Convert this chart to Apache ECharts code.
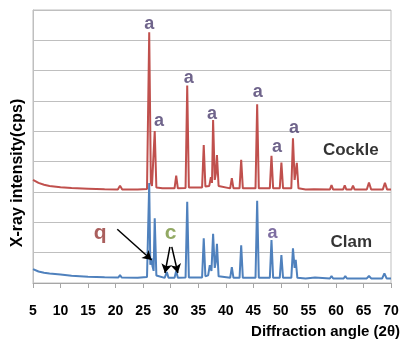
<!DOCTYPE html>
<html>
<head>
<meta charset="utf-8">
<script src="https://cdn.jsdelivr.net/npm/echarts@6/dist/echarts.min.js"></script>
<style>
html,body{margin:0;padding:0;background:#fff;}
#chart{width:402px;height:341px;}
</style>
</head>
<body>
<div id="chart"></div>
<script>
// X-ray diffraction patterns (intensity in arbitrary units, Cockle offset above Clam)
var xTicks = [5, 10, 15, 20, 25, 30, 35, 40, 45, 50, 55, 60, 65, 70];

var cockleAngle = [5.0, 6.0, 7.0, 8.0, 10.0, 12.0, 15.0, 18.0, 20.4, 20.8, 21.2, 24.0, 25.7, 26.1, 26.4, 26.6, 26.8, 27.1, 27.4, 28.5,
  30.7, 31.0, 31.3, 32.7, 33.0, 33.3, 35.7, 36.0, 36.3, 37.0, 37.3, 37.5, 37.7, 38.0, 38.2, 38.4, 38.7, 40.8, 41.1, 41.4,
  42.5, 42.8, 43.1, 45.4, 45.7, 46.0, 48.0, 48.3, 48.6, 49.8, 50.1, 50.4, 51.9, 52.2, 52.5, 52.9, 53.2, 54.5, 56.0, 58.9,
  59.2, 59.5, 61.3, 61.6, 61.9, 62.8, 63.1, 63.4, 65.6, 66.0, 66.4, 68.5, 68.9, 69.3, 70.0];
var cockleIntensity = [3.40, 3.30, 3.24, 3.20, 3.16, 3.13, 3.11, 3.09, 3.08, 3.21, 3.08, 3.08, 3.10, 8.27, 3.30, 3.20, 3.25, 5.01, 3.15, 3.12,
  3.12, 3.54, 3.12, 3.13, 6.51, 3.15, 3.15, 4.55, 3.18, 3.20, 3.49, 3.30, 5.37, 3.40, 3.60, 4.22, 3.20, 3.12, 3.46, 3.12,
  3.12, 4.06, 3.12, 3.12, 5.89, 3.12, 3.12, 4.19, 3.12, 3.12, 3.97, 3.12, 3.12, 4.77, 3.40, 3.96, 3.12, 3.08, 3.09, 3.08,
  3.23, 3.08, 3.08, 3.22, 3.08, 3.08, 3.21, 3.08, 3.08, 3.31, 3.08, 3.08, 3.30, 3.08, 3.08];

var clamAngle = [5.0, 6.0, 7.0, 8.0, 10.0, 12.0, 15.0, 18.0, 20.5, 20.8, 21.1, 24.0, 25.7, 26.1, 26.3, 26.5, 26.7, 26.9, 27.1, 27.4,
  28.9, 29.3, 29.6, 30.7, 31.0, 31.3, 32.7, 33.0, 33.3, 35.7, 36.0, 36.3, 36.8, 37.1, 37.4, 37.7, 38.0, 38.2, 38.4, 38.7,
  40.8, 41.1, 41.4, 42.5, 42.8, 43.1, 45.4, 45.7, 46.0, 48.0, 48.3, 48.6, 49.8, 50.1, 50.4, 51.9, 52.2, 52.5, 52.7, 53.0,
  54.5, 56.2, 58.9, 59.2, 59.5, 61.4, 61.7, 62.0, 62.8, 63.1, 63.4, 65.6, 66.0, 66.4, 68.4, 68.8, 69.2, 70.0];
var clamIntensity = [0.46, 0.38, 0.34, 0.31, 0.28, 0.24, 0.21, 0.19, 0.18, 0.26, 0.18, 0.17, 0.20, 3.30, 0.60, 0.82, 0.55, 0.40, 2.13, 0.25,
  0.17, 0.36, 0.17, 0.17, 0.40, 0.17, 0.18, 2.68, 0.18, 0.18, 1.47, 0.22, 0.25, 0.59, 0.40, 1.62, 0.50, 0.70, 1.29, 0.22,
  0.17, 0.52, 0.17, 0.17, 1.24, 0.17, 0.17, 2.71, 0.17, 0.17, 1.42, 0.17, 0.17, 0.92, 0.17, 0.17, 1.14, 0.50, 0.76, 0.17,
  0.15, 0.18, 0.15, 0.23, 0.15, 0.15, 0.23, 0.15, 0.15, 0.21, 0.15, 0.15, 0.23, 0.15, 0.15, 0.32, 0.15, 0.15];

// peak annotations ("a" = aragonite) placed in data coordinates
var cockleMarkAngle = [26.1, 27.9, 33.3, 37.5, 45.8, 49.3, 52.4];
var cockleMarkY = [8.54, 5.35, 6.75, 5.57, 6.29, 4.49, 5.12];
var clamMarkAngle = [48.5];
var clamMarkY = [1.64];

var seriesNames = ['Cockle', 'Clam'];
var seriesLabelAngle = [62.7, 62.8];
var seriesLabelY = [4.39, 1.33];

var qLabel = {text: 'q', angle: 17.2, y: 1.65};
var cLabel = {text: 'c', angle: 30.0, y: 1.65};
var qArrow = [[20.3, 1.77], [26.54, 0.76]];
var cArrows = [[[29.86, 1.19], [28.96, 0.33]], [[30.2, 1.19], [31.3, 0.33]]];

function zip(a, b) { return a.map(function (v, i) { return [v, b[i]]; }); }

var FONT = '"Liberation Sans", Arial, sans-serif';
var chart = echarts.init(document.getElementById('chart'), null, {renderer: 'canvas'});

var option = {
  animation: false,
  grid: {left: 33, right: 11, top: 10, bottom: 58, show: true, borderColor: '#BFBFBF', borderWidth: 1, backgroundColor: 'transparent'},
  xAxis: {
    type: 'value', min: 5, max: 70, interval: 5,
    axisLine: {show: true, lineStyle: {color: '#A6A6A6', width: 1}},
    axisTick: {show: true, length: 5, lineStyle: {color: '#A6A6A6'}},
    splitLine: {show: false},
    axisLabel: {
      color: '#000', fontFamily: FONT, fontWeight: 'bold', fontSize: 14, margin: 21,
      formatter: function (v) { return xTicks.indexOf(v) >= 0 ? String(v) : ''; }
    }
  },
  yAxis: {
    type: 'value', min: 0, max: 9, interval: 1,
    axisLine: {show: true, lineStyle: {color: '#BFBFBF'}},
    axisTick: {show: false},
    axisLabel: {show: false},
    splitLine: {show: true, lineStyle: {color: '#BFBFBF', width: 1}}
  },
  graphic: [
    {type: 'text', x: 18, y: 173, rotation: Math.PI / 2,
      style: {text: 'X-ray intensity(cps)', font: 'bold 16px ' + FONT, fill: '#000', textAlign: 'center', textVerticalAlign: 'middle'}},
    {type: 'text', right: 2, top: 324,
      style: {text: 'Diffraction angle (2θ)', font: 'bold 15px ' + FONT, fill: '#000'}}
  ],
  series: [
    {
      name: seriesNames[0], type: 'line', data: zip(cockleAngle, cockleIntensity),
      showSymbol: false, symbol: 'none', lineStyle: {color: '#C0504D', width: 2}, itemStyle: {color: '#C0504D'}, z: 2
    },
    {
      name: seriesNames[1], type: 'line', data: zip(clamAngle, clamIntensity),
      showSymbol: false, symbol: 'none', lineStyle: {color: '#4F81BD', width: 2}, itemStyle: {color: '#4F81BD'}, z: 3,
      markLine: {
        silent: true, symbol: ['none', 'arrow'], symbolSize: [8, 9],
        lineStyle: {color: '#000', width: 1.5, type: 'solid'},
        label: {show: false},
        data: [
          [{coord: qArrow[0]}, {coord: qArrow[1]}],
          [{coord: cArrows[0][0]}, {coord: cArrows[0][1]}],
          [{coord: cArrows[1][0]}, {coord: cArrows[1][1]}]
        ]
      }
    },
    {
      type: 'scatter', symbolSize: 0, silent: true, z: 5,
      data: zip(cockleMarkAngle, cockleMarkY),
      label: {show: true, position: 'inside', formatter: 'a', color: '#4B3D6E', fontFamily: FONT, fontWeight: 'bold', fontSize: 18}
    },
    {
      type: 'scatter', symbolSize: 0, silent: true, z: 5,
      data: zip(clamMarkAngle, clamMarkY),
      label: {show: true, position: 'inside', formatter: 'a', color: '#5E4A8A', fontFamily: FONT, fontWeight: 'bold', fontSize: 18}
    },
    {
      type: 'scatter', symbolSize: 0, silent: true, z: 5,
      data: seriesNames.map(function (n, i) { return {name: n, value: [seriesLabelAngle[i], seriesLabelY[i]]}; }),
      label: {show: true, position: 'inside', formatter: '{b}', color: '#000', fontFamily: FONT, fontWeight: 'bold', fontSize: 17}
    },
    {
      type: 'scatter', symbolSize: 0, silent: true, z: 5,
      data: [{name: qLabel.text, value: [qLabel.angle, qLabel.y]}],
      label: {show: true, position: 'inside', formatter: '{b}', color: '#953735', fontFamily: FONT, fontWeight: 'bold', fontSize: 21}
    },
    {
      type: 'scatter', symbolSize: 0, silent: true, z: 5,
      data: [{name: cLabel.text, value: [cLabel.angle, cLabel.y]}],
      label: {show: true, position: 'inside', formatter: '{b}', color: '#77933C', fontFamily: FONT, fontWeight: 'bold', fontSize: 21}
    }
  ]
};
chart.setOption(option);
</script>
</body>
</html>
